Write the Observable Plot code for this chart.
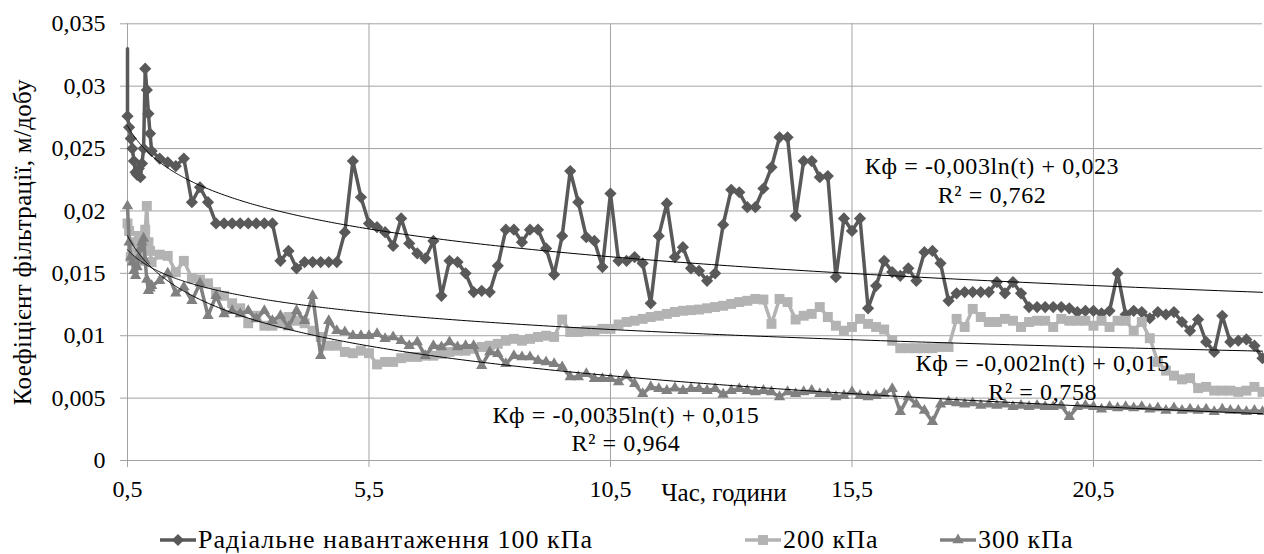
<!DOCTYPE html>
<html>
<head>
<meta charset="utf-8">
<script src="https://cdn.jsdelivr.net/npm/d3@7"></script>
<script src="https://cdn.jsdelivr.net/npm/@observablehq/plot@0.6"></script>
<style>
  html, body { margin: 0; padding: 0; background: #fff; }
  #chart { position: relative; width: 1264px; height: 554px; overflow: hidden;
           font-family: "Liberation Serif", "Times New Roman", serif; color: #000; }
  .lg-text { position: absolute; font-size: 26px; line-height: 30px; white-space: nowrap; letter-spacing: 1px; }
  .lg-key { position: absolute; overflow: visible; }
</style>
</head>
<body>
<div id="chart"></div>
<script>
// ---------- data ----------
// time of each reading, minutes
const minutes = [
  30,32,34,36,38,40,42,44,46,48,50,52,54,56,58,60,
  70,80,90,100,110,120,130,140,150,160,
  170,180,190,200,210,220,230,240,250,260,
  270,280,290,300,310,320,330,340,350,360,
  370,380,390,400,410,420,430,440,450,460,
  470,480,490,500,510,520,530,540,550,560,
  570,580,590,600,610,620,630,640,650,660,
  670,680,690,700,710,720,730,740,750,760,
  770,780,790,800,810,820,830,840,850,860,
  870,880,890,900,910,920,930,940,950,960,
  970,980,990,1000,1010,1020,1030,1040,1050,1060,
  1070,1080,1090,1100,1110,1120,1130,1140,1150,1160,
  1170,1180,1190,1200,1210,1220,1230,1240,1250,1260,
  1270,1280,1290,1300,1310,1320,1330,1340,1350,1360,
  1370,1380,1390,1400,1410,1420,1430,1440
];
// first reading of the 100 kPa series: drawn as a bare line start (no marker) in the original
const k100Start = 0.033;
const k100 = [
  0.0276,0.0267,0.0258,0.0250,0.0240,0.0231,0.0229,0.0234,0.0227,0.0238,0.0250,0.0314,0.0297,0.0278,0.0262,0.0248,
  0.0242,0.0239,0.0236,0.0242,0.0207,0.0219,0.0207,0.0190,0.0190,0.0190,
  0.0190,0.0190,0.0190,0.0190,0.0190,0.0160,0.0168,0.0154,0.0159,0.0159,
  0.0159,0.0159,0.0159,0.0183,0.0240,0.0211,0.0190,0.0187,0.0183,0.0172,
  0.0194,0.0174,0.0166,0.0162,0.0176,0.0132,0.0160,0.0159,0.0150,0.0135,
  0.0136,0.0135,0.0156,0.0185,0.0185,0.0175,0.0185,0.0185,0.0170,0.0149,
  0.0180,0.0232,0.0207,0.0179,0.0176,0.0155,0.0214,0.0160,0.0160,0.0163,
  0.0158,0.0126,0.0180,0.0206,0.0163,0.0171,0.0154,0.0152,0.0144,0.0150,
  0.0189,0.0217,0.0215,0.0203,0.0203,0.0218,0.0235,0.0259,0.0259,0.0196,
  0.0240,0.0240,0.0227,0.0228,0.0147,0.0194,0.0184,0.0194,0.0122,0.0140,
  0.0160,0.0151,0.0148,0.0154,0.0144,0.0167,0.0168,0.0158,0.0128,0.0134,
  0.0135,0.0135,0.0135,0.0135,0.0143,0.0134,0.0143,0.0134,0.0123,0.0123,
  0.0123,0.0123,0.0123,0.0122,0.0119,0.0120,0.0120,0.0118,0.0120,0.0150,
  0.0117,0.0120,0.0119,0.0114,0.0119,0.0117,0.0119,0.0111,0.0104,0.0113,
  0.0095,0.0087,0.0116,0.0095,0.0096,0.0097,0.0092,0.0082
];
const k200 = [
  0.0190,0.0184,0.0163,0.0170,0.0175,0.0165,0.0172,0.0180,0.0160,0.0168,0.0175,0.0185,0.0204,0.0175,0.0168,0.0159,
  0.0165,0.0164,0.0151,0.0160,0.0146,0.0145,0.0142,0.0135,0.0132,0.0126,
  0.0122,0.0110,0.0116,0.0108,0.0108,0.0110,0.0115,0.0112,0.0110,0.0104,
  0.0099,0.0092,0.0092,0.0087,0.0086,0.0088,0.0086,0.0077,0.0079,0.0079,
  0.0082,0.0083,0.0083,0.0084,0.0084,0.00855,0.0087,0.0088,0.0088,0.00895,
  0.0091,0.0092,0.00935,0.0096,0.00975,0.0096,0.00975,0.0099,0.0100,0.0099,
  0.0113,0.0103,0.0103,0.0104,0.0104,0.01055,0.01055,0.0109,0.0111,0.0112,
  0.01135,0.0115,0.0116,0.01175,0.0119,0.0120,0.01205,0.0121,0.0122,0.0123,
  0.0124,0.01255,0.0127,0.0128,0.01295,0.0129,0.01095,0.01295,0.0127,0.0113,
  0.0116,0.01175,0.0123,0.0115,0.0108,0.0104,0.0107,0.01135,0.01095,0.0107,
  0.0105,0.0096,0.0090,0.0090,0.0090,0.0090,0.0090,0.0091,0.0091,0.01135,
  0.0107,0.01215,0.0115,0.0111,0.0111,0.01135,0.0112,0.0107,0.0111,0.0112,
  0.0112,0.0107,0.01135,0.0112,0.0112,0.0112,0.0108,0.0112,0.0107,0.0112,
  0.0112,0.0104,0.0111,0.0098,0.0079,0.0072,0.0068,0.0065,0.0066,0.0058,
  0.0059,0.0056,0.0056,0.0056,0.0055,0.0056,0.0059,0.0055
];
const k300 = [
  0.0204,0.0175,0.0163,0.0159,0.0152,0.0148,0.0155,0.0163,0.0170,0.0175,0.0178,0.0160,0.0145,0.0136,0.0138,0.0140,
  0.0144,0.0150,0.0134,0.0139,0.0128,0.0142,0.0116,0.0132,0.01175,0.0120,
  0.01175,0.0120,0.01135,0.0120,0.0112,0.0116,0.0107,0.0120,0.0112,0.0132,
  0.0084,0.0112,0.0104,0.0103,0.0100,0.0100,0.0100,0.01015,0.00975,0.0099,
  0.0096,0.0092,0.0095,0.0084,0.0092,0.0091,0.0095,0.0091,0.0092,0.0092,
  0.0076,0.0087,0.00855,0.00775,0.0084,0.0083,0.0083,0.0080,0.0079,0.00775,
  0.0075,0.0067,0.0067,0.00695,0.00655,0.00655,0.00655,0.0063,0.0068,0.00615,
  0.00535,0.0059,0.00575,0.0056,0.0058,0.0056,0.00575,0.00575,0.0056,0.00575,
  0.0053,0.0056,0.00575,0.0056,0.0055,0.0056,0.0055,0.0051,0.0055,0.00535,
  0.0055,0.0056,0.00535,0.00535,0.0051,0.0052,0.0055,0.0052,0.0051,0.0052,
  0.00535,0.00575,0.0039,0.0051,0.0045,0.0040,0.0031,0.0045,0.0047,0.0046,
  0.0045,0.0046,0.0044,0.0045,0.0044,0.0045,0.0043,0.0044,0.0043,0.0044,
  0.0043,0.0043,0.0044,0.0035,0.0043,0.0044,0.0043,0.0041,0.0043,0.0042,
  0.0043,0.0042,0.0043,0.0041,0.0042,0.0040,0.0042,0.0040,0.0041,0.0040,
  0.0041,0.0039,0.0041,0.0040,0.0040,0.0039,0.0040,0.0039
];
const seriesNames = ["Радіальне навантаження 100 кПа", "200 кПа", "300 кПа"];
const xTicks = [0.5, 5.5, 10.5, 15.5, 20.5];
const yTicks = [0, 0.005, 0.01, 0.015, 0.02, 0.025, 0.03, 0.035];
const trendTexts = [
  "Кф = -0,003ln(t) + 0,023\nR² = 0,762",
  "Кф = -0,002ln(t) + 0,015\nR² = 0,758",
  "Кф = -0,0035ln(t) + 0,015\nR² = 0,964"
];
const xTitle = "Час, години";
const yTitle = "Коефіцієнт фільтрації, м/добу";

// ---------- layout / style ----------
const W = 1264, H = 515;
const gridColor = "#a3a3a3";
const FONT = '"Liberation Serif", "Times New Roman", serif';
const styles = [
  {color: "#595959", symbol: "diamond2", r: 5.5},
  {color: "#b3b3b3", symbol: "square", r: 5.6},
  {color: "#808080", symbol: "triangle", r: 4.2}
];
const labelAnchorT = [18.4, 19.45, 10.82];      // hours
const labelAnchorV = [0.02252, 0.00673, 0.00257]; // m/day
const xTitleT = 12.85;

// ---------- build tables ----------
const fmtNum = v => (v === 0 ? "0" : String(+v.toFixed(4)).replace(".", ","));
const valueSets = [k100, k200, k300];
const rows = valueSets.map(vals => minutes.map((m, i) => ({t: m / 60, v: vals[i]})));
const lineRows = [
  [{t: minutes[0] / 60, v: k100Start}, ...rows[0]],
  rows[1],
  rows[2]
];

function logFit(data) {
  const X = data.map(d => Math.log(d.t)), Y = data.map(d => d.v);
  const mx = d3.mean(X), my = d3.mean(Y);
  const a = d3.sum(X, (x, i) => (x - mx) * (Y[i] - my)) / d3.sum(X, x => (x - mx) ** 2);
  return {a, b: my - a * mx};
}
const tMin = minutes[0] / 60, tMax = minutes[minutes.length - 1] / 60;
const tSamples = d3.range(0, 301).map(i => tMin * Math.pow(tMax / tMin, i / 300));
const trends = lineRows.map(data => {
  const {a, b} = logFit(data);
  return tSamples.map(t => ({t, v: a * Math.log(t) + b}));
});

const seriesMarks = [];
for (let s = 0; s < 3; s++) {
  const st = styles[s];
  seriesMarks.push(
    Plot.line(lineRows[s], {x: "t", y: "v", stroke: st.color, strokeWidth: 3.5, strokeLinejoin: "round"}),
    Plot.dot(rows[s], {x: "t", y: "v", symbol: st.symbol, r: st.r, fill: st.color, stroke: "none"})
  );
}

const chart = Plot.plot({
  width: W, height: H,
  marginLeft: 127, marginRight: 2, marginTop: 23.3, marginBottom: H - 460,
  style: {fontFamily: FONT, fontSize: "24px", background: "#fff", color: "#000", overflow: "visible"},
  x: {domain: [tMin, 24], label: null},
  y: {domain: [0, 0.035], label: null},
  marks: [
    Plot.gridY(yTicks, {stroke: gridColor, strokeOpacity: 1, strokeWidth: 1}),
    Plot.gridX(xTicks, {stroke: gridColor, strokeOpacity: 1, strokeWidth: 1}),
    Plot.axisX(xTicks, {tickFormat: fmtNum, tickSize: 7, tickPadding: 12, stroke: gridColor, fill: "#000", label: null, fontSize: 24}),
    Plot.axisY(yTicks, {tickFormat: fmtNum, tickSize: 7, tickPadding: 15, stroke: gridColor, fill: "#000", label: null, fontSize: 24}),
    ...seriesMarks,
    ...trends.map(tr => Plot.line(tr, {x: "t", y: "v", stroke: "#000", strokeWidth: 1})),
    Plot.text(trendTexts, {x: labelAnchorT, y: labelAnchorV, text: d => d, textAnchor: "middle",
      lineAnchor: "middle", lineHeight: 1.17, fontSize: 24, fill: "#000"}),
    Plot.text([xTitle], {x: [xTitleT], frameAnchor: "bottom", dy: 32, lineAnchor: "middle",
      textAnchor: "middle", fontSize: 25, fill: "#000"}),
    Plot.text([yTitle], {frameAnchor: "left", rotate: -90, dx: -105, textAnchor: "middle",
      lineAnchor: "middle", fontSize: 25, fill: "#000"})
  ]
});
// widen the free texts a little to match the original's wider serif face
d3.select(chart).selectAll("text").each(function() {
  const s = this.textContent;
  if (s.startsWith("Кф")) this.style.letterSpacing = "0.6px";
  else if (s === yTitle) this.style.letterSpacing = "0.3px";
});
const root = document.getElementById("chart");
root.appendChild(chart);

// ---------- legend (below the svg) ----------
const legendPos = [{key: 160, text: 198}, {key: 745, text: 783}, {key: 940, text: 978}];
const legendCY = 540;
seriesNames.forEach((name, s) => {
  const st = styles[s];
  const symbolType = {diamond2: d3.symbolDiamond2, square: d3.symbolSquare, triangle: d3.symbolTriangle}[st.symbol];
  const svg = d3.create("svg").attr("class", "lg-key").attr("width", 36).attr("height", 20)
    .style("left", legendPos[s].key + "px").style("top", (legendCY - 10) + "px");
  svg.append("line").attr("x1", 0).attr("x2", 36).attr("y1", 10).attr("y2", 10)
    .attr("stroke", st.color).attr("stroke-width", 3.5);
  svg.append("path").attr("d", d3.symbol(symbolType, Math.PI * st.r * st.r)())
    .attr("transform", "translate(18,10)").attr("fill", st.color);
  root.appendChild(svg.node());
  const t = document.createElement("div");
  t.className = "lg-text";
  t.textContent = name;
  t.style.left = legendPos[s].text + "px";
  t.style.top = (legendCY - 15) + "px";
  root.appendChild(t);
});
</script>
</body>
</html>
